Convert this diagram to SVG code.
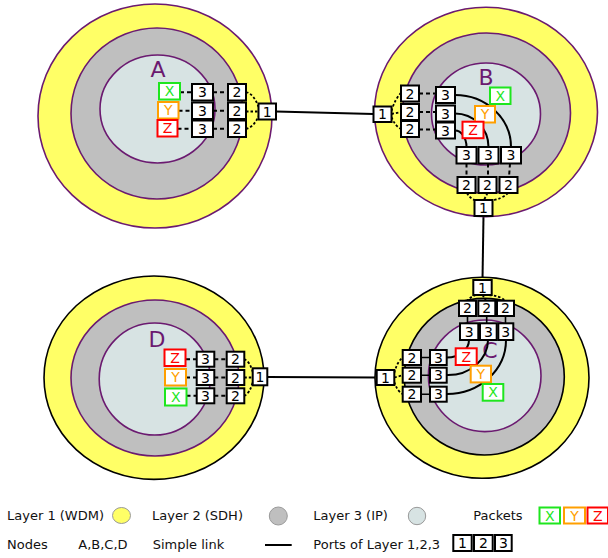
<svg xmlns="http://www.w3.org/2000/svg" width="608" height="558" viewBox="0 0 608 558">
<style>
.l1{fill:#ffff66;stroke:#6b1a70;stroke-width:1.6}
.l1k{fill:#ffff66;stroke:#000;stroke-width:1.6}
.l2{fill:#bfbfbf;stroke:#6b1a70;stroke-width:1.6}
.l2k{fill:#bfbfbf;stroke:#000;stroke-width:1.6}
.l3{fill:#d7e3e3;stroke:#6b1a70;stroke-width:1.6}
.p{fill:#fff;stroke:#000;stroke-width:2}
.pk{fill:#fff;stroke-width:2}
.gx{stroke:#1ee61e}.gy{stroke:#ff9f00}.gz{stroke:#ff0000}
.t{font-family:"DejaVu Sans",sans-serif;font-size:14px;text-anchor:middle;fill:#000}
.tx{fill:#1ee61e}.ty{fill:#ff9f00}.tz{fill:#ff0000}
.lab{font-family:"DejaVu Sans",sans-serif;font-size:22px;text-anchor:middle;fill:#6b1a70}
.lg{font-family:"DejaVu Sans",sans-serif;font-size:13px;fill:#111}
.ln{fill:none;stroke:#000;stroke-width:2}
.ds{fill:none;stroke:#000;stroke-width:2;stroke-dasharray:4,3}
.dt{fill:none;stroke:#000;stroke-width:1.8;stroke-dasharray:2.5,2}
</style>

<g id="connectors">
<path class="ln" d="M276,111.5 L373.5,114"/>
<path class="ln" d="M483.5,216 L482.5,280"/>
<path class="ln" d="M267.3,377 L376.7,377.5"/>
</g>

<g id="node-A">
<ellipse class="l1" cx="155" cy="116" rx="117" ry="112"/>
<ellipse class="l2" cx="157" cy="113.5" rx="86" ry="85.5"/>
<ellipse class="l3" cx="157.5" cy="109" rx="57.5" ry="54"/>
<text class="lab" x="158" y="77">A</text>
<path class="ds" d="M180,92.3 L192,92.3 M213,92.3 L228,92.3 M178.5,110.8 L192,110.8 M213,110.8 L228,110.8 M177.5,128.8 L192,128.8 M213,128.8 L228,128.8"/>
<path class="dt" d="M246,92 Q254,94 258.5,107 M246,111.5 L258.5,111.5 M246,129 Q254,127 258.5,116"/>
<rect class="pk gx" x="159" y="83" width="21" height="16.5"/><text class="t tx" x="169.5" y="96.3">X</text>
<rect class="pk gy" x="158" y="102" width="20.5" height="16.5"/><text class="t ty" x="168.25" y="115.3">Y</text>
<rect class="pk gz" x="157.5" y="120" width="20" height="16.5"/><text class="t tz" x="167.5" y="133.3">Z</text>
<rect class="p" x="192" y="84" width="21" height="16.5"/><text class="t" x="202.5" y="97.3">3</text>
<rect class="p" x="192" y="102.5" width="21" height="16.5"/><text class="t" x="202.5" y="115.8">3</text>
<rect class="p" x="192" y="120.5" width="21" height="16.5"/><text class="t" x="202.5" y="133.8">3</text>
<rect class="p" x="228" y="84" width="18" height="16.5"/><text class="t" x="237" y="97.3">2</text>
<rect class="p" x="228" y="102.5" width="18" height="16.5"/><text class="t" x="237" y="115.8">2</text>
<rect class="p" x="228" y="120.5" width="18" height="16.5"/><text class="t" x="237" y="133.8">2</text>
<rect class="p" x="258.5" y="103.5" width="17.5" height="16"/><text class="t" x="267.25" y="116.5">1</text>
</g>

<g id="node-B">
<ellipse class="l1" cx="486" cy="112" rx="111.5" ry="104.7"/>
<ellipse class="l2" cx="486.5" cy="113" rx="84" ry="80"/>
<ellipse class="l3" cx="486" cy="114" rx="54.5" ry="51"/>
<text class="lab" x="486" y="85">B</text>
<path class="ln" d="M455,95 A56,52 0 0 1 511,147 M455,113.5 A33.5,33.5 0 0 1 488.5,147 M455,130.5 A11.5,16.5 0 0 1 466.5,147"/>
<path class="ds" d="M419,93.5 L436,93.5 M419,112 L436,112 M419,129.5 L436,129.5 M466.5,163.5 L466.5,177 M488,163.5 L488,177 M510,163.5 L509,177"/>
<path class="dt" d="M391.5,111 Q395,99 401,93 M391.5,114 L401,112 M391.5,117 Q395,126 401,129 M467,193 Q470,199 477,201 M487.5,193 L484,200 M508,193 Q502,199 490,201"/>
<rect class="pk gx" x="490" y="87.5" width="20.5" height="16.5"/><text class="t tx" x="500.25" y="100.8">X</text>
<rect class="pk gy" x="475" y="106" width="20" height="16.5"/><text class="t ty" x="485" y="119.3">Y</text>
<rect class="pk gz" x="462.5" y="121.7" width="21" height="16.5"/><text class="t tz" x="473" y="135">Z</text>
<rect class="p" x="401" y="85.5" width="18" height="16"/><text class="t" x="410" y="98.5">2</text>
<rect class="p" x="401" y="104" width="18" height="16"/><text class="t" x="410" y="117">2</text>
<rect class="p" x="401" y="121" width="18" height="16"/><text class="t" x="410" y="134">2</text>
<rect class="p" x="436" y="87" width="19" height="16"/><text class="t" x="445.5" y="100">3</text>
<rect class="p" x="436" y="105.5" width="19" height="16"/><text class="t" x="445.5" y="118.5">3</text>
<rect class="p" x="436" y="122.5" width="19" height="16"/><text class="t" x="445.5" y="135.5">3</text>
<rect class="p" x="373.5" y="106.5" width="18" height="15.5"/><text class="t" x="382.5" y="119.3">1</text>
<rect class="p" x="456.5" y="147" width="20" height="16.5"/><text class="t" x="466.5" y="160.3">3</text>
<rect class="p" x="478.5" y="147" width="20" height="16.5"/><text class="t" x="488.5" y="160.3">3</text>
<rect class="p" x="501" y="147" width="20" height="16.5"/><text class="t" x="511" y="160.3">3</text>
<rect class="p" x="457.5" y="177" width="18" height="16"/><text class="t" x="466.5" y="190">2</text>
<rect class="p" x="478.5" y="177" width="18" height="16"/><text class="t" x="487.5" y="190">2</text>
<rect class="p" x="499.5" y="177" width="18" height="16"/><text class="t" x="508.5" y="190">2</text>
<rect class="p" x="474.5" y="200" width="18" height="16"/><text class="t" x="483.5" y="213">1</text>
</g>

<g id="node-D">
<ellipse class="l1k" cx="154" cy="377.7" rx="110" ry="101.7"/>
<ellipse class="l2" cx="155" cy="378" rx="84" ry="78"/>
<ellipse class="l3" cx="154.7" cy="379" rx="55.5" ry="56"/>
<text class="lab" x="157" y="347">D</text>
<path class="ds" d="M186,359.2 L196.7,359.2 M214.3,359.2 L226.7,359.2 M186,377.5 L196.7,377.5 M214.3,377.5 L226.7,377.5 M186.5,395.8 L196.7,395.8 M214.3,395.8 L226.7,395.8"/>
<path class="dt" d="M244.3,359 Q250,362 252.7,372 M244.3,377.5 L252.7,377.5 M244.3,396 Q250,393 252.7,382"/>
<rect class="pk gz" x="164.5" y="349.5" width="21" height="16.5"/><text class="t tz" x="175" y="362.8">Z</text>
<rect class="pk gy" x="165" y="369" width="21" height="16.5"/><text class="t ty" x="175.5" y="382.3">Y</text>
<rect class="pk gx" x="165" y="388.5" width="21.5" height="17"/><text class="t tx" x="175.75" y="402">X</text>
<rect class="p" x="196.7" y="351.7" width="17.6" height="15"/><text class="t" x="205.5" y="364.2">3</text>
<rect class="p" x="196.7" y="370" width="17.6" height="15"/><text class="t" x="205.5" y="382.5">3</text>
<rect class="p" x="196.7" y="388.3" width="17.6" height="15"/><text class="t" x="205.5" y="400.8">3</text>
<rect class="p" x="226.7" y="351.7" width="17.6" height="15"/><text class="t" x="235.5" y="364.2">2</text>
<rect class="p" x="226.7" y="370" width="17.6" height="15"/><text class="t" x="235.5" y="382.5">2</text>
<rect class="p" x="226.7" y="388.3" width="17.6" height="15"/><text class="t" x="235.5" y="400.8">2</text>
<rect class="p" x="252.7" y="368.3" width="14.6" height="17"/><text class="t" x="260" y="381.8">1</text>
</g>

<g id="node-C">
<ellipse class="l1k" cx="482" cy="377.8" rx="107" ry="100.5"/>
<ellipse class="l2k" cx="484.3" cy="376.7" rx="80" ry="78.3"/>
<ellipse class="l3" cx="484.7" cy="375.8" rx="56.3" ry="55.8"/>
<text class="lab" x="490" y="358">C</text>
<path class="ln" d="M446.7,357.5 A22,17.5 0 0 0 469,340 M446.7,375 A40,35 0 0 0 488,340 M446.7,394 A59,54 0 0 0 506,340"/>
<path class="ln" d="M421,357.5 L430,357.5 M421,375.2 L430,375.2 M421,394.2 L430,394.2 M467.5,316 L467.5,323.3 M486.7,316 L486.7,323.3 M505.5,316 L505.5,323.3" style="stroke-width:1.6"/>
<path class="dt" d="M476,295 Q470,297 467.5,300.7 M482.5,295 L486,300.7 M489,295 Q501,296 505,300.7 M394.3,373 Q397,362 402.7,357.5 M394.3,377.5 L402.7,375.2 M394.3,382 Q397,391 402.7,394"/>
<rect class="pk gz" x="455.7" y="348.3" width="21" height="16.7"/><text class="t tz" x="466.2" y="361.7">Z</text>
<rect class="pk gy" x="470.7" y="365.7" width="20.3" height="16.7"/><text class="t ty" x="480.85" y="379">Y</text>
<rect class="pk gx" x="482.7" y="384" width="20.6" height="16.7"/><text class="t tx" x="493" y="397.3">X</text>
<rect class="p" x="473.3" y="280" width="18.4" height="15"/><text class="t" x="482.5" y="292.5">1</text>
<rect class="p" x="459" y="300.7" width="17" height="15.3"/><text class="t" x="467.5" y="313.3">2</text>
<rect class="p" x="478.3" y="300.7" width="17" height="15.3"/><text class="t" x="486.8" y="313.3">2</text>
<rect class="p" x="497" y="300.7" width="17" height="15.3"/><text class="t" x="505.5" y="313.3">2</text>
<rect class="p" x="460" y="323.3" width="18.3" height="16.7"/><text class="t" x="469.15" y="336.7">3</text>
<rect class="p" x="480" y="323.3" width="16.7" height="16.7"/><text class="t" x="488.35" y="336.7">3</text>
<rect class="p" x="498.3" y="323.3" width="15" height="16.7"/><text class="t" x="505.8" y="336.7">3</text>
<rect class="p" x="402.7" y="350" width="18.3" height="15"/><text class="t" x="411.85" y="362.5">2</text>
<rect class="p" x="402.7" y="367.7" width="18.3" height="15"/><text class="t" x="411.85" y="380.2">2</text>
<rect class="p" x="402.7" y="386.7" width="18.3" height="15"/><text class="t" x="411.85" y="399.2">2</text>
<rect class="p" x="430" y="350" width="16.7" height="15"/><text class="t" x="438.35" y="362.5">3</text>
<rect class="p" x="430" y="367.7" width="16.7" height="15"/><text class="t" x="438.35" y="380.2">3</text>
<rect class="p" x="430" y="386.7" width="16.7" height="15"/><text class="t" x="438.35" y="399.2">3</text>
<rect class="p" x="376.7" y="370" width="17.6" height="15"/><text class="t" x="385.5" y="382.5">1</text>
</g>

<g id="legend">
<text class="lg" x="7" y="520">Layer 1 (WDM)</text>
<ellipse cx="121.5" cy="515.5" rx="9" ry="8" fill="#ffff66" stroke="#999" stroke-width="1"/>
<text class="lg" x="152" y="520">Layer 2 (SDH)</text>
<circle cx="278.3" cy="516" r="9" fill="#bfbfbf" stroke="#999" stroke-width="1"/>
<text class="lg" x="313.3" y="520">Layer 3 (IP)</text>
<circle cx="417" cy="516" r="8.7" fill="#d7e3e3" stroke="#999" stroke-width="1"/>
<text class="lg" x="473.3" y="520">Packets</text>
<rect class="pk gx" x="539.5" y="507.5" width="20.5" height="16"/><text class="t tx" x="549.75" y="520.5">X</text>
<rect class="pk gy" x="564" y="507.5" width="21" height="16"/><text class="t ty" x="574.5" y="520.5">Y</text>
<rect class="pk gz" x="587.5" y="507.5" width="20.5" height="16"/><text class="t tz" x="597.75" y="520.5">Z</text>
<text class="lg" x="7" y="548.5">Nodes</text>
<text class="lg" x="78.3" y="548.5">A,B,C,D</text>
<text class="lg" x="152.7" y="548.5">Simple link</text>
<path class="ln" d="M265,545 L291.7,545"/>
<text class="lg" x="313.3" y="548.5">Ports of Layer 1,2,3</text>
<rect class="p" x="453.3" y="535" width="18.4" height="16"/><text class="t" x="462.5" y="548">1</text>
<rect class="p" x="474" y="535" width="18.7" height="16"/><text class="t" x="483.35" y="548">2</text>
<rect class="p" x="495" y="535" width="16.7" height="16"/><text class="t" x="503.35" y="548">3</text>
</g>
</svg>
